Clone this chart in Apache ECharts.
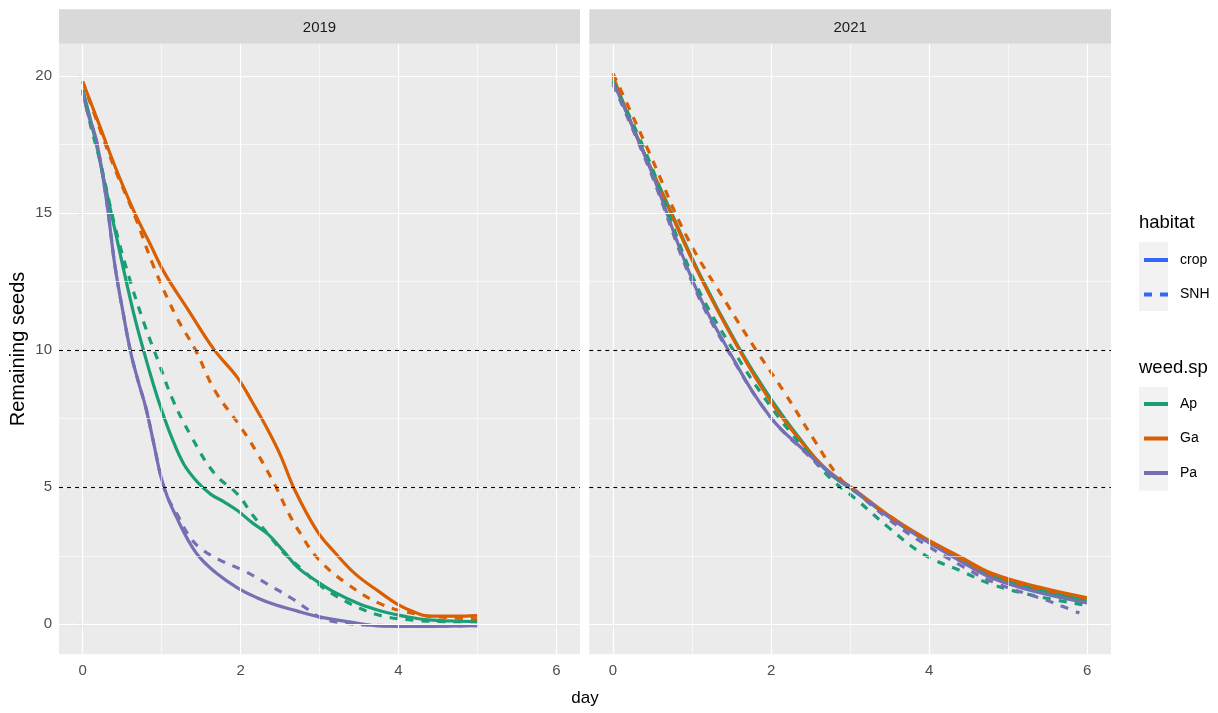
<!DOCTYPE html>
<html>
<head>
<meta charset="utf-8">
<script src="https://cdn.jsdelivr.net/npm/echarts@6/dist/echarts.min.js"></script>
<style>
html,body{margin:0;padding:0;background:#fff;}
#chart{width:1218px;height:713px;}
</style>
</head>
<body>
<div id="chart"></div>
<script>
// ---- data ----
const panels = ['2019', '2021'];
const species = ['Ap', 'Ga', 'Pa'];
const habitats = ['crop', 'SNH'];
const xTicks = [0, 2, 4, 6];
const xMinor = [1, 3, 5];
const yTicks = [0, 5, 10, 15, 20];
const yMinor = [2.5, 7.5, 12.5, 17.5];
const refLines = [5, 10];

// 2019
const ap_crop_2019 = [[0,19.5],[0.15,17.8],[0.27,16.2],[0.4,14.5],[0.51,13.05],[0.65,11.3],[0.77,10.0],[0.88,8.9],[0.99,7.9],[1.13,6.8],[1.28,5.85],[1.45,5.2],[1.62,4.75],[1.8,4.45],[1.96,4.15],[2.15,3.7],[2.35,3.28],[2.55,2.65],[2.73,2.06],[2.95,1.6],[3.17,1.2],[3.5,0.75],[3.8,0.47],[4.1,0.28],[4.38,0.16],[4.7,0.12],[5.0,0.1]];
const ap_snh_2019 = [[0,19.5],[0.1,18.2],[0.22,16.9],[0.41,14.5],[0.61,12.45],[0.8,10.8],[0.95,9.65],[1.14,8.2],[1.38,6.83],[1.67,5.5],[1.96,4.75],[2.15,4.0],[2.35,3.28],[2.55,2.6],[2.78,2.0],[2.97,1.5],[3.17,1.1],[3.5,0.6],[3.8,0.3],[4.2,0.15],[4.6,0.1],[5.0,0.1]];
const ga_crop_2019 = [[0,19.8],[0.2,18.3],[0.41,16.7],[0.66,15.0],[0.85,13.9],[1.04,12.8],[1.33,11.5],[1.67,10.0],[1.96,9.0],[2.15,8.1],[2.35,7.07],[2.5,6.2],[2.69,4.88],[2.97,3.4],[3.2,2.6],[3.46,1.82],[3.75,1.2],[3.99,0.73],[4.2,0.45],[4.38,0.3],[4.7,0.3],[5.0,0.32]];
const ga_snh_2019 = [[0,19.8],[0.2,18.2],[0.41,16.6],[0.66,14.9],[0.9,13.05],[1.19,11.2],[1.43,10.0],[1.67,8.55],[2.0,7.2],[2.2,6.3],[2.45,5.0],[2.6,4.1],[2.75,3.35],[2.97,2.43],[3.31,1.56],[3.8,0.71],[4.28,0.35],[4.6,0.25],[5.0,0.2]];
const pa_crop_2019 = [[0,19.4],[0.08,18.5],[0.17,17.7],[0.3,15.5],[0.41,13.05],[0.51,11.4],[0.61,9.9],[0.7,8.9],[0.8,7.9],[0.9,6.6],[0.99,5.4],[1.08,4.6],[1.19,3.9],[1.33,3.1],[1.48,2.45],[1.7,1.85],[1.96,1.33],[2.2,0.98],[2.44,0.71],[2.7,0.5],[2.97,0.29],[3.4,0.08],[3.8,-0.07],[4.3,-0.08],[5.0,-0.05]];
const pa_snh_2019 = [[0,19.4],[0.08,18.5],[0.17,17.7],[0.3,15.5],[0.41,13.05],[0.51,11.4],[0.61,9.9],[0.7,8.9],[0.8,7.9],[0.9,6.6],[0.99,5.4],[1.08,4.6],[1.2,4.0],[1.33,3.3],[1.48,2.8],[1.72,2.37],[2.06,1.93],[2.35,1.45],[2.64,0.96],[2.85,0.55],[3.03,0.22],[3.3,0.05],[3.56,-0.02],[4.2,-0.06],[5.0,-0.05]];

// 2021
const ap_crop_2021 = [[0,19.9],[0.3,17.8],[0.67,15.45],[1.1,12.75],[1.58,10.15],[1.98,8.3],[2.37,6.75],[2.72,5.55],[3.06,4.85],[3.5,3.9],[3.93,3.1],[4.4,2.35],[4.8,1.75],[5.4,1.25],[6.0,0.87]];
const ap_snh_2021 = [[0,19.8],[0.46,16.9],[1.02,12.6],[1.5,10.1],[1.98,8.0],[2.42,6.4],[2.76,5.3],[3.06,4.6],[3.5,3.5],[3.93,2.55],[4.4,1.95],[4.8,1.45],[5.4,1.0],[6.0,0.69]];
const ga_crop_2021 = [[0,20.0],[0.3,17.8],[0.67,15.4],[1.1,12.7],[1.58,10.1],[1.98,8.2],[2.37,6.7],[2.72,5.6],[3.06,4.9],[3.5,3.95],[3.93,3.17],[4.4,2.45],[4.8,1.85],[5.4,1.35],[6.0,0.97]];
const ga_snh_2021 = [[0,20.1],[0.2,18.85],[0.46,17.2],[0.94,14.1],[1.46,11.6],[1.8,10.05],[2.16,8.5],[2.55,6.7],[2.85,5.4],[3.06,4.85],[3.5,3.95],[3.93,3.15],[4.4,2.4],[4.8,1.8],[5.4,1.3],[6.0,0.95]];
const pa_crop_2021 = [[0,19.8],[0.46,16.7],[1.02,12.45],[1.46,10.0],[1.98,7.6],[2.42,6.34],[2.76,5.5],[3.06,4.88],[3.5,3.9],[3.93,3.1],[4.4,2.3],[4.8,1.68],[5.4,1.15],[6.0,0.78]];
const pa_snh_2021 = [[0,19.7],[0.46,16.6],[1.02,12.35],[1.46,9.95],[1.98,7.6],[2.42,6.3],[2.76,5.45],[3.06,4.85],[3.5,3.8],[3.93,2.95],[4.4,2.15],[4.8,1.55],[5.47,0.89],[5.7,0.64],[5.9,0.41]];

const seriesData = {
  '2019': { Ap: { crop: ap_crop_2019, SNH: ap_snh_2019 }, Ga: { crop: ga_crop_2019, SNH: ga_snh_2019 }, Pa: { crop: pa_crop_2019, SNH: pa_snh_2019 } },
  '2021': { Ap: { crop: ap_crop_2021, SNH: ap_snh_2021 }, Ga: { crop: ga_crop_2021, SNH: ga_snh_2021 }, Pa: { crop: pa_crop_2021, SNH: pa_snh_2021 } }
};

// ---- styling ----
const colors = { Ap: '#1B9E77', Ga: '#D95F02', Pa: '#7570B3' };
const habitatColor = '#3366FF';
const dash = [8, 8];
const FONT = 'Liberation Sans, Arial, sans-serif';

const panelLeft = [59, 589.3];
const panelWidth = [521, 521.7];
const panelTop = 43.7;
const panelHeight = 610.6;
const stripTop = 9.3;

const grids = panels.map((p, i) => ({
  left: panelLeft[i], top: panelTop, width: panelWidth[i], height: panelHeight,
  show: true, backgroundColor: '#EBEBEB', borderWidth: 0, containLabel: false
}));

const xAxes = panels.map((p, i) => ({
  type: 'value', gridIndex: i, min: -0.3, max: 6.3,
  axisLine: { show: false },
  axisTick: { show: true, customValues: xTicks, length: 5, lineStyle: { color: '#333333', width: 1.1 } },
  axisLabel: { show: true, customValues: xTicks, color: '#4D4D4D', fontSize: 15, margin: 9, fontFamily: FONT },
  splitLine: { show: false }
}));

const yAxes = panels.map((p, i) => ({
  type: 'value', gridIndex: i, min: -1.094, max: 21.18,
  axisLine: { show: false },
  axisTick: { show: i === 0, customValues: yTicks, length: 5, lineStyle: { color: '#333333', width: 1.1 } },
  axisLabel: { show: i === 0, customValues: yTicks, color: '#4D4D4D', fontSize: 15, margin: 7, fontFamily: FONT },
  splitLine: { show: false }
}));

const series = [];
// legend-only series for habitat
series.push({ type: 'line', name: 'crop', data: [], symbol: 'none', lineStyle: { color: habitatColor, width: 4, type: 'solid' }, itemStyle: { color: habitatColor } });
series.push({ type: 'line', name: 'SNH', data: [], symbol: 'none', lineStyle: { color: habitatColor, width: 4, type: dash }, itemStyle: { color: habitatColor } });

panels.forEach((p, i) => {
  const gridLines = [];
  xTicks.forEach(v => gridLines.push({ xAxis: v, lineStyle: { color: '#FFFFFF', width: 1.2, type: 'solid' } }));
  xMinor.forEach(v => gridLines.push({ xAxis: v, lineStyle: { color: '#FFFFFF', width: 0.6, type: 'solid' } }));
  yTicks.forEach(v => gridLines.push({ yAxis: v, lineStyle: { color: '#FFFFFF', width: 1.2, type: 'solid' } }));
  yMinor.forEach(v => gridLines.push({ yAxis: v, lineStyle: { color: '#FFFFFF', width: 0.6, type: 'solid' } }));
  series.push({
    type: 'line', name: 'grid' + i, xAxisIndex: i, yAxisIndex: i, data: [], z: 1, silent: true,
    markLine: { silent: true, symbol: ['none', 'none'], label: { show: false }, animation: false, data: gridLines }
  });
});

panels.forEach((p, i) => {
  habitats.forEach(h => {
    species.forEach(s => {
      series.push({
        type: 'line', name: s, xAxisIndex: i, yAxisIndex: i,
        data: seriesData[p][s][h],
        smooth: 0.4, symbol: 'none', showSymbol: false, silent: true,
        lineStyle: { color: colors[s], width: 3.2, type: h === 'SNH' ? dash : 'solid', cap: 'butt' },
        itemStyle: { color: colors[s] },
        z: 3
      });
    });
  });
});

panels.forEach((p, i) => {
  series.push({
    type: 'line', name: 'ref' + i, xAxisIndex: i, yAxisIndex: i, data: [], z: 5, silent: true,
    markLine: {
      silent: true, symbol: ['none', 'none'], label: { show: false }, animation: false,
      lineStyle: { color: '#000000', width: 1.1, type: [4, 4] },
      data: refLines.map(v => ({ yAxis: v }))
    }
  });
});

const graphics = [];
panels.forEach((p, i) => {
  graphics.push({ type: 'rect', left: panelLeft[i], top: stripTop, shape: { width: panelWidth[i], height: panelTop - stripTop }, style: { fill: '#D9D9D9' }, silent: true });
  graphics.push({ type: 'text', x: panelLeft[i] + panelWidth[i] / 2, y: (stripTop + panelTop) / 2 + 1, style: { text: p, fill: '#1A1A1A', font: '15px ' + FONT, textAlign: 'center', textVerticalAlign: 'middle' }, silent: true });
});
// axis titles
graphics.push({ type: 'text', x: 585, y: 698, style: { text: 'day', fill: '#000', font: '17px ' + FONT, textAlign: 'center', textVerticalAlign: 'middle' }, silent: true });
graphics.push({ type: 'text', x: 18, y: 349, rotation: Math.PI / 2, style: { text: 'Remaining seeds', fill: '#000', font: '20px ' + FONT, textAlign: 'center', textVerticalAlign: 'middle' }, silent: true });
// legend titles and key backgrounds
graphics.push({ type: 'text', x: 1139, y: 223, style: { text: 'habitat', fill: '#000', font: '18.5px ' + FONT, textAlign: 'left', textVerticalAlign: 'middle' }, silent: true });
graphics.push({ type: 'text', x: 1139, y: 368, style: { text: 'weed.sp', fill: '#000', font: '18.5px ' + FONT, textAlign: 'left', textVerticalAlign: 'middle' }, silent: true });
graphics.push({ type: 'rect', x: 1139, y: 242, shape: { width: 29, height: 69 }, style: { fill: '#F2F2F2' }, silent: true, z: -1 });
graphics.push({ type: 'rect', x: 1139, y: 387, shape: { width: 29, height: 103.5 }, style: { fill: '#F2F2F2' }, silent: true, z: -1 });

const legendCommon = {
  orient: 'vertical', itemWidth: 24, itemHeight: 14, itemGap: 20.5, padding: 0,
  selectedMode: false,
  itemStyle: { opacity: 0 },
  lineStyle: { width: 4 },
  textStyle: { color: '#000', fontSize: 14, lineHeight: 14, fontFamily: FONT, padding: [0, 0, 0, 7] }
};

const option = {
  animation: false,
  backgroundColor: '#FFFFFF',
  grid: grids,
  xAxis: xAxes,
  yAxis: yAxes,
  legend: [
    Object.assign({}, legendCommon, { left: 1142, top: 253, data: habitats }),
    Object.assign({}, legendCommon, { left: 1142, top: 397, data: species })
  ],
  graphic: graphics,
  series: series
};

const chart = echarts.init(document.getElementById('chart'), null, { renderer: 'canvas' });
chart.setOption(option);
</script>
</body>
</html>
